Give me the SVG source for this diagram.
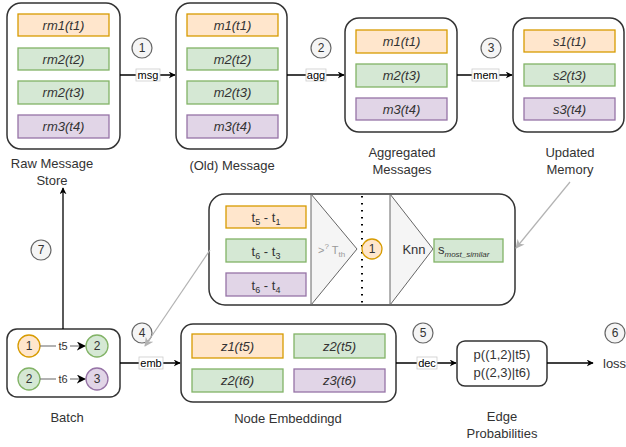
<svg xmlns="http://www.w3.org/2000/svg" width="626" height="447" viewBox="0 0 626 447">
<defs>
<marker id="ah" viewBox="0 0 10 10" refX="9" refY="5" markerWidth="7" markerHeight="7" orient="auto-start-reverse" markerUnits="userSpaceOnUse">
<path d="M0,0 L10,5 L0,10 L3,5 Z" fill="#000"/>
</marker>
<marker id="ahs" viewBox="0 0 10 10" refX="9" refY="5" markerWidth="9" markerHeight="9" orient="auto" markerUnits="userSpaceOnUse">
<path d="M0,0 L10,5 L0,10 L3,5 Z" fill="#000"/>
</marker>
<marker id="ahg" viewBox="0 0 10 10" refX="9" refY="5" markerWidth="9" markerHeight="9" orient="auto" markerUnits="userSpaceOnUse">
<path d="M0,0 L10,5 L0,10 L3,5 Z" fill="#b3b3b3"/>
</marker>
</defs>
<style>
text{font-family:"Liberation Sans",Arial,sans-serif;fill:#333;}
.box{fill:#fff;stroke:#333;stroke-width:1.5;}
.or{fill:#ffe6cc;stroke:#d79b00;stroke-width:1.3;}
.gr{fill:#d5e8d4;stroke:#82b366;stroke-width:1.3;}
.pu{fill:#e1d5e7;stroke:#9673a6;stroke-width:1.3;}
.it{font-size:13px;font-style:italic;text-anchor:middle;dominant-baseline:central;}
.lb{font-size:13px;text-anchor:middle;}
.num{fill:#f5f5f5;stroke:#666;stroke-width:1.2;}
.nt{font-size:12px;text-anchor:middle;dominant-baseline:central;}
.el{font-size:11px;text-anchor:middle;dominant-baseline:central;fill:#000;}
.elb{fill:#fff;stroke:#ccc;stroke-width:0.8;}
.ln{stroke:#000;stroke-width:1.3;fill:none;}
.gl{stroke:#b3b3b3;stroke-width:1.2;fill:none;}
.tri{fill:#f5f5f5;stroke:#666;stroke-width:1;}
</style>

<g id="raw-message-store">
<rect class="box" x="7" y="3" width="113" height="146" rx="14"/>
<rect class="or" x="18" y="14" width="91" height="22"/><text class="it" x="63.5" y="25">rm1(t1)</text>
<rect class="gr" x="18" y="48" width="91" height="22"/><text class="it" x="63.5" y="59">rm2(t2)</text>
<rect class="gr" x="18" y="81" width="91" height="23"/><text class="it" x="63.5" y="92.5">rm2(t3)</text>
<rect class="pu" x="18" y="115" width="91" height="23"/><text class="it" x="63.5" y="126.5">rm3(t4)</text>
<text class="lb" x="52" y="168">Raw Message</text>
<text class="lb" x="52" y="185">Store</text>
</g>

<g id="old-message">
<rect class="box" x="176" y="3" width="111" height="146" rx="14"/>
<rect class="or" x="187" y="14" width="91" height="22"/><text class="it" x="232.5" y="25">m1(t1)</text>
<rect class="gr" x="187" y="48" width="91" height="22"/><text class="it" x="232.5" y="59">m2(t2)</text>
<rect class="gr" x="187" y="81" width="91" height="23"/><text class="it" x="232.5" y="92.5">m2(t3)</text>
<rect class="pu" x="187" y="115" width="91" height="23"/><text class="it" x="232.5" y="126.5">m3(t4)</text>
<text class="lb" x="232" y="170">(Old) Message</text>
</g>

<g id="aggregated-messages">
<rect class="box" x="345" y="18" width="112" height="114" rx="14"/>
<rect class="or" x="356" y="30" width="91" height="23"/><text class="it" x="401.5" y="41.5">m1(t1)</text>
<rect class="gr" x="356" y="64" width="91" height="23"/><text class="it" x="401.5" y="75.5">m2(t3)</text>
<rect class="pu" x="356" y="98" width="91" height="22"/><text class="it" x="401.5" y="109">m3(t4)</text>
<text class="lb" x="402" y="157">Aggregated</text>
<text class="lb" x="402" y="174">Messages</text>
</g>

<g id="updated-memory">
<rect class="box" x="513" y="18" width="111" height="114" rx="14"/>
<rect class="or" x="524" y="30" width="91" height="22"/><text class="it" x="569.5" y="41">s1(t1)</text>
<rect class="gr" x="524" y="64" width="91" height="22"/><text class="it" x="569.5" y="75">s2(t3)</text>
<rect class="pu" x="524" y="98" width="91" height="22"/><text class="it" x="569.5" y="109">s3(t4)</text>
<text class="lb" x="570" y="157">Updated</text>
<text class="lb" x="570" y="174">Memory</text>
</g>

<g id="similarity-block">
<rect class="box" x="209" y="194" width="306" height="111" rx="16"/>
<rect class="or" x="226" y="206" width="80" height="22"/>
<text x="266" y="222" style="font-size:13px;text-anchor:middle;">t<tspan style="font-size:9px" dy="3">5</tspan><tspan dy="-3"> - t</tspan><tspan style="font-size:9px" dy="3">1</tspan></text>
<rect class="gr" x="226" y="239" width="80" height="23"/>
<text x="266" y="255.5" style="font-size:13px;text-anchor:middle;">t<tspan style="font-size:9px" dy="3">6</tspan><tspan dy="-3"> - t</tspan><tspan style="font-size:9px" dy="3">3</tspan></text>
<rect class="pu" x="226" y="273" width="80" height="23"/>
<text x="266" y="289.5" style="font-size:13px;text-anchor:middle;">t<tspan style="font-size:9px" dy="3">6</tspan><tspan dy="-3"> - t</tspan><tspan style="font-size:9px" dy="3">4</tspan></text>
<polygon class="tri" points="311,194 357,249 311,305"/>
<text x="318" y="254" style="font-size:11px;fill:#999;">&gt;<tspan style="font-size:8px" dy="-5">?</tspan><tspan dy="5"> T</tspan><tspan style="font-size:8px" dy="3">th</tspan></text>
<line x1="362" y1="196" x2="362" y2="305" stroke="#000" stroke-width="2" stroke-dasharray="1.5 5.5"/>
<circle cx="372" cy="249" r="10" fill="#ffe6cc" stroke="#d79b00" stroke-width="1.3"/>
<text class="nt" x="372" y="249">1</text>
<polygon class="tri" points="390,194 433,249 390,305"/>
<text x="414" y="254" style="font-size:13px;text-anchor:middle;">Knn</text>
<rect class="gr" x="434" y="239" width="69" height="23"/>
<text x="438" y="254" style="font-size:13px;">s<tspan style="font-size:8px;font-style:italic" dy="3">most_similar</tspan></text>
</g>

<g id="batch">
<rect class="box" x="7" y="329" width="113" height="68" rx="10"/>
<circle cx="29" cy="346" r="11" fill="#ffe6cc" stroke="#d79b00" stroke-width="1.3"/><text class="nt" x="29" y="346">1</text>
<circle cx="97" cy="346" r="11" fill="#d5e8d4" stroke="#82b366" stroke-width="1.3"/><text class="nt" x="97" y="346">2</text>
<circle cx="29" cy="379" r="11" fill="#d5e8d4" stroke="#82b366" stroke-width="1.3"/><text class="nt" x="29" y="379">2</text>
<circle cx="97" cy="379" r="11" fill="#e1d5e7" stroke="#9673a6" stroke-width="1.3"/><text class="nt" x="97" y="379">3</text>
<line x1="40" y1="346" x2="85" y2="346" stroke="#666" stroke-width="1.2" marker-end="url(#ahs)"/>
<line x1="40" y1="379" x2="85" y2="379" stroke="#666" stroke-width="1.2" marker-end="url(#ahs)"/>
<rect x="56" y="340" width="14" height="12" fill="#fff"/><text class="el" x="63" y="346" style="fill:#333">t5</text>
<rect x="56" y="373" width="14" height="12" fill="#fff"/><text class="el" x="63" y="379" style="fill:#333">t6</text>
<text class="lb" x="67" y="422">Batch</text>
</g>

<g id="node-embeddings">
<rect class="box" x="181" y="324" width="215" height="78" rx="12"/>
<rect class="or" x="192" y="334" width="91" height="24"/><text class="it" x="237.5" y="346">z1(t5)</text>
<rect class="gr" x="192" y="369" width="91" height="23"/><text class="it" x="237.5" y="380.5">z2(t6)</text>
<rect class="gr" x="294" y="334" width="91" height="24"/><text class="it" x="339.5" y="346">z2(t5)</text>
<rect class="pu" x="294" y="369" width="91" height="23"/><text class="it" x="339.5" y="380.5">z3(t6)</text>
<text class="lb" x="288" y="423">Node Embeddingd</text>
</g>

<g id="edge-probabilities">
<rect class="box" x="457" y="341" width="90" height="45" rx="8"/>
<text class="lb" x="502" y="359">p((1,2)|t5)</text>
<text class="lb" x="502" y="377">p((2,3)|t6)</text>
<text class="lb" x="502" y="421">Edge</text>
<text class="lb" x="502" y="438">Probabilities</text>
</g>

<g id="loss">
<text x="603" y="368" style="font-size:13px;">loss</text>
</g>

<g id="step-markers">
<circle class="num" cx="142" cy="48" r="10"/><text class="nt" x="142" y="48">1</text>
<circle class="num" cx="321" cy="48" r="10"/><text class="nt" x="321" y="48">2</text>
<circle class="num" cx="491" cy="48" r="10"/><text class="nt" x="491" y="48">3</text>
<circle class="num" cx="142" cy="333" r="10"/><text class="nt" x="142" y="333">4</text>
<circle class="num" cx="423" cy="333" r="10"/><text class="nt" x="423" y="333">5</text>
<circle class="num" cx="615" cy="333" r="10"/><text class="nt" x="615" y="333">6</text>
<circle class="num" cx="41" cy="250" r="10"/><text class="nt" x="41" y="250">7</text>
</g>

<g id="connectors">
<line class="ln" x1="120" y1="75" x2="175" y2="75" marker-end="url(#ah)"/>
<rect class="elb" x="136" y="69" width="24" height="12"/><text class="el" x="148" y="75">msg</text>
<line class="ln" x1="287" y1="75" x2="344" y2="75" marker-end="url(#ah)"/>
<rect class="elb" x="306" y="69" width="20" height="12"/><text class="el" x="316" y="75">agg</text>
<line class="ln" x1="457" y1="75" x2="512" y2="75" marker-end="url(#ah)"/>
<rect class="elb" x="472" y="69" width="27" height="12"/><text class="el" x="485.5" y="75">mem</text>
<line class="ln" x1="63" y1="329" x2="63" y2="188" marker-end="url(#ah)"/>
<line class="ln" x1="120" y1="363" x2="180" y2="363" marker-end="url(#ah)"/>
<rect class="elb" x="139" y="357" width="24" height="12"/><text class="el" x="151" y="363">emb</text>
<line class="ln" x1="396" y1="363" x2="456" y2="363" marker-end="url(#ah)"/>
<rect class="elb" x="417" y="357" width="20" height="12"/><text class="el" x="427" y="363">dec</text>
<line class="ln" x1="547" y1="363" x2="593" y2="363" marker-end="url(#ah)"/>
<line class="gl" x1="570" y1="182" x2="516" y2="248" marker-end="url(#ahg)"/>
<line class="gl" x1="210" y1="250" x2="145" y2="346" marker-end="url(#ahg)"/>
</g>
</svg>
